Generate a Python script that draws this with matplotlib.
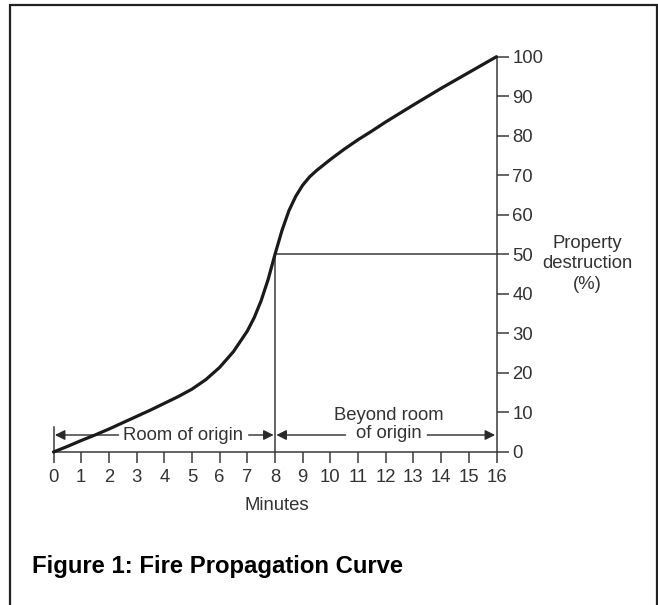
import numpy as np
import matplotlib
matplotlib.use("Agg")
import matplotlib.pyplot as plt
from matplotlib.patches import Rectangle

plt.rcParams['font.family'] = ['Liberation Sans', 'DejaVu Sans']

# values
minutes = [0, 0.5, 1, 1.5, 2, 2.5, 3, 3.5, 4, 4.5, 5, 5.5, 6, 6.5, 7, 7.25,
           7.5, 7.75, 8, 8.25, 8.5, 8.75, 9, 9.25, 9.5, 10, 10.5, 11, 11.5,
           12, 13, 14, 15, 16]
destruction = [0, 1.4, 2.9, 4.3, 5.8, 7.4, 9.0, 10.6, 12.3, 14.0, 15.9, 18.3,
               21.4, 25.4, 30.6, 34.0, 38.3, 43.6, 50.0, 56.0, 61.0, 64.7,
               67.5, 69.6, 71.2, 74.0, 76.6, 79.0, 81.2, 83.5, 87.8, 92.0,
               96.0, 100]
x_ticks = list(range(0, 17))
y_ticks = list(range(0, 101, 10))

W, H = 658, 605
line_col = '#3a3a3a'
text_col = '#333333'
fs = 13.3

fig = plt.figure(figsize=(W / 100, H / 100), dpi=100)
fig.patch.set_facecolor('white')

# border frame (bottom edge is cut off in the reference)
fig.patches.append(Rectangle((9.5 / W, -0.05), 647 / W, 1.05 - 5.5 / H,
                             transform=fig.transFigure, fill=False,
                             edgecolor='#222222', lw=1.6))

ax = fig.add_axes([53.5 / W, (H - 452) / H, 443 / W, (452 - 56.7) / H])
ax.set_xlim(0, 16)
ax.set_ylim(0, 100)
ax.patch.set_alpha(0)

for s in ['top', 'left']:
    ax.spines[s].set_visible(False)
for s in ['bottom', 'right']:
    ax.spines[s].set_color(line_col)
    ax.spines[s].set_linewidth(1.1)

ax.set_xticks(x_ticks)
ax.set_xticklabels([str(t) for t in x_ticks])
ax.tick_params(axis='x', direction='out', length=8, width=1.1, color=line_col,
               labelsize=fs, labelcolor=text_col, pad=4)
ax.yaxis.tick_right()
ax.set_yticks(y_ticks)
ax.set_yticklabels([str(t) for t in y_ticks])
ax.tick_params(axis='y', direction='out', length=8.5, width=1.1, color=line_col,
               labelsize=fs, labelcolor=text_col, pad=3)

# curve
ax.plot(minutes, destruction, color='#1a1a1a', lw=2.3, clip_on=False,
        solid_capstyle='round', solid_joinstyle='round', zorder=5)

# guide lines at 8 min / 50 %
ax.plot([8, 8], [0, 50], color=line_col, lw=1.1, clip_on=False)
ax.plot([8, 16], [50, 50], color=line_col, lw=1.1, clip_on=False)
ax.plot([0, 0], [0, 6.3], color=line_col, lw=1.1, clip_on=False)

# region arrows
arr = dict(arrowstyle='-|>', color='#2a2a2a', lw=1.0, mutation_scale=15,
           shrinkA=0, shrinkB=0)
ya = 4.3
ax.annotate('', xy=(0.05, ya), xytext=(2.35, ya), arrowprops=arr)
ax.annotate('', xy=(7.95, ya), xytext=(7.05, ya), arrowprops=arr)
ax.text(4.67, ya, 'Room of origin', ha='center', va='center', fontsize=fs,
        color=text_col)
ax.annotate('', xy=(8.05, ya), xytext=(10.55, ya), arrowprops=arr)
ax.annotate('', xy=(15.95, ya), xytext=(13.5, ya), arrowprops=arr)
ax.text(12.1, 7.0, 'Beyond room\nof origin', ha='center', va='center',
        fontsize=fs, color=text_col, linespacing=1.05)

# axis titles
fig.text(277 / W, 1 - 506 / H, 'Minutes', ha='center', va='center',
         fontsize=fs, color=text_col)
fig.text(587 / W, 1 - 264 / H, 'Property\ndestruction\n(%)', ha='center',
         va='center', fontsize=fs, color=text_col, linespacing=1.3)

fig.text(31.5 / W, 1 - 567 / H, 'Figure 1: Fire Propagation Curve',
         ha='left', va='center', fontsize=17.2, fontweight='bold', color='black')

fig.savefig('out.png', dpi=100)
